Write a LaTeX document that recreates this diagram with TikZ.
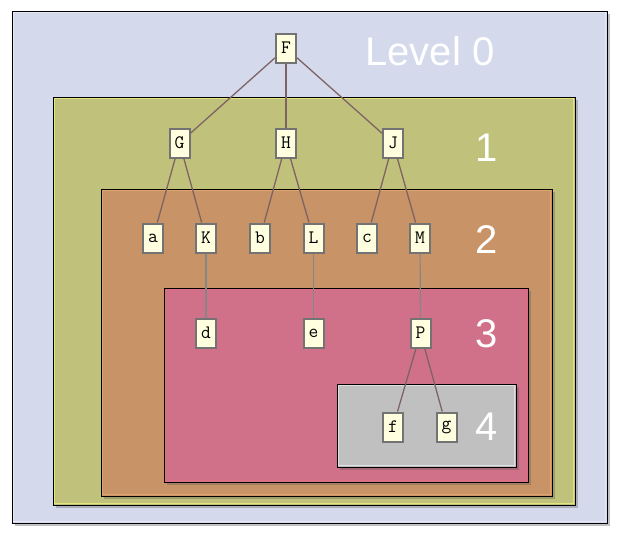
\documentclass[tikz,border=0pt]{standalone}
\usepackage{fontspec}
\newfontfamily\lblfont{Liberation Sans}
\usetikzlibrary{shadows}
\definecolor{czero}{HTML}{D4D9EC}
\definecolor{cone}{HTML}{C0C27B}
\definecolor{ctwo}{HTML}{C89367}
\definecolor{cthree}{HTML}{D07189}
\definecolor{cfour}{HTML}{C0C0C0}
\definecolor{nodefill}{HTML}{FFFFE0}
\definecolor{nodeborder}{HTML}{737373}
\definecolor{edgebrown}{HTML}{7E6365}
\definecolor{edgegray}{HTML}{868686}
\begin{document}
\begin{tikzpicture}[x=1pt,y=-1pt,
  lvl/.style={draw=black, line width=0.8pt,
    drop shadow={shadow xshift=3pt, shadow yshift=-3pt, opacity=0.3, fill=black!70}},
  hilite/.style={draw=#1, line width=1pt},
  tn/.style={draw=nodeborder, fill=nodefill, line width=2pt, minimum width=20pt,
    minimum height=29pt, inner sep=0pt, font=\ttfamily\fontsize{19}{19}\selectfont},
  lab/.style={text=white, inner sep=0pt, font=\lblfont\fontsize{40}{40}\selectfont},
  edgeb/.style={draw=edgebrown, line width=1.3pt},
  edgeg/.style={draw=edgegray, line width=1.2pt}]
\useasboundingbox (0,0) rectangle (619,539);
\fill[white] (0,0) rectangle (619,539);
% level boxes
\path[lvl, fill=czero, drop shadow={shadow xshift=3pt, shadow yshift=-3pt, opacity=0.15, fill=black!40}] (12,11) rectangle (607,523);
\path[hilite=czero!60!white] (13.5,12.5) rectangle (605.5,521.5);
\path[lvl, fill=cone] (53,97) rectangle (575,505);
\path[hilite=cone!60!yellow!70!white] (54.5,98.5) rectangle (573.5,503.5);
\path[lvl, fill=ctwo] (101,189) rectangle (552,496);
\path[hilite=ctwo!70!orange!80!white] (102.5,190.5) rectangle (550.5,494.5);
\path[lvl, fill=cthree] (164,288) rectangle (528,482);
\path[hilite=cthree!75!red!85!white] (165.5,289.5) rectangle (526.5,480.5);
\path[lvl, fill=cfour] (337,384) rectangle (516,467);
\path[hilite=cfour!50!white] (338.5,385.5) rectangle (514.5,465.5);
% labels
\node[lab] (l0) at (430,51) {Level 0};
\node[lab] (l1) at (487,148) {1};
\node[lab] (l2) at (487,240) {2};
\node[lab] (l3) at (487,334) {3};
\node[lab] (l4) at (487,427) {4};
% tree nodes
\node[tn] (F) at (286,48) {F};
\node[tn] (G) at (179.5,143) {G};
\node[tn] (H) at (286,143) {H};
\node[tn] (J) at (393,143) {J};
\node[tn] (a) at (153,238) {a};
\node[tn] (K) at (206,238) {K};
\node[tn] (b) at (260,238) {b};
\node[tn] (L) at (313.5,238) {L};
\node[tn] (c) at (367,238) {c};
\node[tn] (M) at (420,238) {M};
\node[tn] (d) at (206,333) {d};
\node[tn] (e) at (313.5,333) {e};
\node[tn] (P) at (420.5,333) {P};
\node[tn] (f) at (393,427) {f};
\node[tn] (g) at (446.5,427) {g};
% edges
\draw[edgeb] (F) -- (G);
\draw[edgeb] (F) -- (H);
\draw[edgeb] (F) -- (J);
\draw[edgeb] (G) -- (a);
\draw[edgeb] (G) -- (K);
\draw[edgeb] (H) -- (b);
\draw[edgeb] (H) -- (L);
\draw[edgeb] (J) -- (c);
\draw[edgeb] (J) -- (M);
\draw[edgeg] (K) -- (d);
\draw[edgeg] (L) -- (e);
\draw[edgeg] (M) -- (P);
\draw[edgeb] (P) -- (f);
\draw[edgeb] (P) -- (g);
\end{tikzpicture}
\end{document}
